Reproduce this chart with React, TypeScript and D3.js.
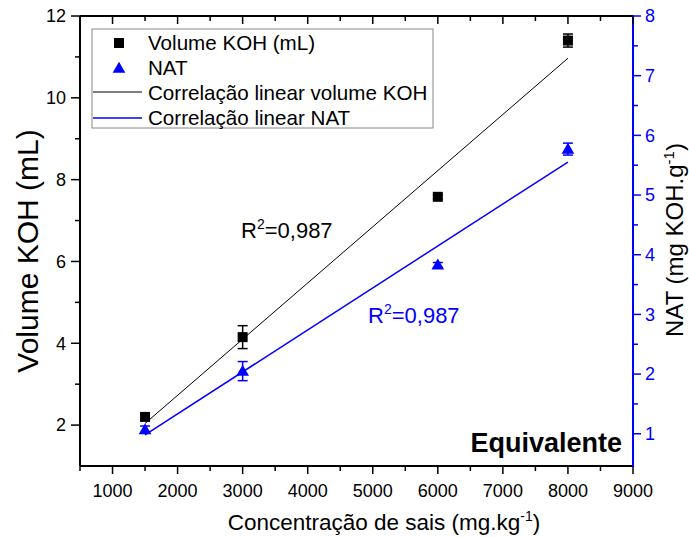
import React from "react";
import * as d3 from "d3";

const concentrations = [1500, 3000, 6000, 8000];
const volumeKOH = [2.2, 4.15, 7.58, 11.4];
const volumeKOHErr = [0.07, 0.28, 0.05, 0.16];
const nat = [1.07, 2.05, 3.83, 5.77];
const natErr = [0.06, 0.16, 0.04, 0.1];

const xMajorTicks = [1000, 2000, 3000, 4000, 5000, 6000, 7000, 8000, 9000];
const xMinorTicks = [500, 1500, 2500, 3500, 4500, 5500, 6500, 7500, 8500];
const yLeftMajor = [2, 4, 6, 8, 10, 12];
const yLeftMinor = [3, 5, 7, 9, 11];
const yRightMajor = [1, 2, 3, 4, 5, 6, 7, 8];
const yRightMinor = [1.5, 2.5, 3.5, 4.5, 5.5, 6.5, 7.5];

const legendLabels = [
  "Volume KOH (mL)",
  "NAT",
  "Correlação linear volume KOH",
  "Correlação linear NAT",
];
const r2Labels = ["0,987", "0,987"];

const W = 689;
const H = 537;
const L = 80, R = 633, T = 16, B = 466;
const FONT = "'Liberation Sans', Arial, sans-serif";
const BLUE = "#0000ff";

function fit(xs: number[], ys: number[]) {
  const mx = d3.mean(xs)!;
  const my = d3.mean(ys)!;
  let sxy = 0, sxx = 0;
  xs.forEach((x, i) => { sxy += (x - mx) * (ys[i] - my); sxx += (x - mx) ** 2; });
  const m = sxy / sxx;
  return (x: number) => my + m * (x - mx);
}

export default function App() {
  const x = d3.scaleLinear().domain([500, 9000]).range([L, R]);
  const yL = d3.scaleLinear().domain([1, 12]).range([B, T]);
  const yR = d3.scaleLinear().domain([0.46, 8]).range([B, T]);

  const fKOH = fit(concentrations, volumeKOH);
  const fNAT = fit(concentrations, nat);
  const x0 = d3.min(concentrations)!;
  const x1 = d3.max(concentrations)!;
  const lineKOH = d3.line<number>().x((d) => x(d)).y((d) => yL(fKOH(d)));
  const lineNAT = d3.line<number>().x((d) => x(d)).y((d) => yR(fNAT(d)));

  const tri = d3.symbol().type(d3.symbolTriangle).size(70)()!;

  return (
    <svg width={W} height={H} style={{ position: "absolute", left: 0, top: 0, background: "#fff" }} fontFamily={FONT}>
      {/* regression lines */}
      <path d={lineKOH([x0, x1])!} stroke="#000" strokeWidth={1} fill="none" />
      <path d={lineNAT([x0, x1])!} stroke={BLUE} strokeWidth={1.5} fill="none" />

      {/* KOH points */}
      {concentrations.map((c, i) => {
        const cx = x(c);
        const yt = yL(volumeKOH[i] + volumeKOHErr[i]);
        const yb = yL(volumeKOH[i] - volumeKOHErr[i]);
        return (
          <g key={"k" + i}>
            <line x1={cx} x2={cx} y1={yt} y2={yb} stroke="#000" strokeWidth={1.5} />
            <line x1={cx - 5} x2={cx + 5} y1={yt} y2={yt} stroke="#000" strokeWidth={1.5} />
            <line x1={cx - 5} x2={cx + 5} y1={yb} y2={yb} stroke="#000" strokeWidth={1.5} />
            <rect x={cx - 5} y={yL(volumeKOH[i]) - 5} width={10} height={10} fill="#000" />
          </g>
        );
      })}
      {/* NAT points */}
      {concentrations.map((c, i) => {
        const cx = x(c);
        const yt = yR(nat[i] + natErr[i]);
        const yb = yR(nat[i] - natErr[i]);
        return (
          <g key={"n" + i}>
            <line x1={cx} x2={cx} y1={yt} y2={yb} stroke={BLUE} strokeWidth={1.5} />
            <line x1={cx - 5} x2={cx + 5} y1={yt} y2={yt} stroke={BLUE} strokeWidth={1.5} />
            <line x1={cx - 5} x2={cx + 5} y1={yb} y2={yb} stroke={BLUE} strokeWidth={1.5} />
            <path d={tri} transform={`translate(${cx},${yR(nat[i]) + 1})`} fill={BLUE} />
          </g>
        );
      })}

      {/* frame */}
      <line x1={L} x2={R} y1={T} y2={T} stroke="#000" strokeWidth={2} />
      <line x1={L} x2={R} y1={B} y2={B} stroke="#000" strokeWidth={2} />
      <line x1={L} x2={L} y1={T} y2={B} stroke="#000" strokeWidth={2} />
      <line x1={R} x2={R} y1={T - 1} y2={B + 1} stroke={BLUE} strokeWidth={2} />

      {/* x ticks */}
      {xMajorTicks.map((t) => (
        <g key={"xm" + t}>
          <line x1={x(t)} x2={x(t)} y1={B} y2={B + 8} stroke="#000" strokeWidth={1.5} />
          <line x1={x(t)} x2={x(t)} y1={T} y2={T + 8} stroke="#000" strokeWidth={1.5} />
          <text x={x(t)} y={B + 31} textAnchor="middle" fontSize={18} fill="#000">{t}</text>
        </g>
      ))}
      {xMinorTicks.map((t) => (
        <g key={"xn" + t}>
          <line x1={x(t)} x2={x(t)} y1={B} y2={B + 5} stroke="#000" strokeWidth={1.5} />
          <line x1={x(t)} x2={x(t)} y1={T} y2={T + 5} stroke="#000" strokeWidth={1.5} />
        </g>
      ))}

      {/* left ticks */}
      {yLeftMajor.map((t) => (
        <g key={"ym" + t}>
          <line x1={L - 9} x2={L} y1={yL(t)} y2={yL(t)} stroke="#000" strokeWidth={1.5} />
          <text x={L - 14} y={yL(t)} dy="0.35em" textAnchor="end" fontSize={18} fill="#000">{t}</text>
        </g>
      ))}
      {yLeftMinor.map((t) => (
        <line key={"yn" + t} x1={L - 5} x2={L} y1={yL(t)} y2={yL(t)} stroke="#000" strokeWidth={1.5} />
      ))}

      {/* right ticks */}
      {yRightMajor.map((t) => (
        <g key={"rm" + t}>
          <line x1={R} x2={R + 8} y1={yR(t)} y2={yR(t)} stroke={BLUE} strokeWidth={1.5} />
          <text x={R + 12} y={yR(t)} dy="0.35em" textAnchor="start" fontSize={18} fill={BLUE}>{t}</text>
        </g>
      ))}
      {yRightMinor.map((t) => (
        <line key={"rn" + t} x1={R} x2={R + 5} y1={yR(t)} y2={yR(t)} stroke={BLUE} strokeWidth={1.5} />
      ))}

      {/* axis titles */}
      <text x={384} y={530} textAnchor="middle" fontSize={22.5} fill="#000">
        Concentração de sais (mg.kg<tspan dy={-9} fontSize={14}>-1</tspan><tspan dy={9}>)</tspan>
      </text>
      <text transform={`translate(38,251) rotate(-90)`} textAnchor="middle" fontSize={30} fill="#000">
        Volume KOH (mL)
      </text>
      <text transform={`translate(683,240) rotate(-90)`} textAnchor="middle" fontSize={24} fill="#000">
        NAT (mg KOH.g<tspan dy={-9} fontSize={15}>-1</tspan><tspan dy={9}>)</tspan>
      </text>

      {/* legend */}
      <rect x={92} y={29} width={341} height={99} fill="#fff" stroke="#888" strokeWidth={1} />
      <rect x={114} y={38} width={10} height={10} fill="#000" />
      <path d={tri} transform={`translate(119,69)`} fill={BLUE} />
      <line x1={93} x2={142} y1={92} y2={92} stroke="#000" strokeWidth={1} />
      <line x1={93} x2={142} y1={118} y2={118} stroke={BLUE} strokeWidth={1.5} />
      {legendLabels.map((lab, i) => (
        <text key={lab} x={148} y={43 + i * 25} dy="0.35em" fontSize={20.6} fill="#000">{lab}</text>
      ))}

      {/* R2 annotations */}
      <text x={241} y={238} fontSize={22} fill="#000">
        R<tspan dy={-9} fontSize={14}>2</tspan><tspan dy={9}>={r2Labels[0]}</tspan>
      </text>
      <text x={368} y={323} fontSize={22} fill={BLUE}>
        R<tspan dy={-9} fontSize={14}>2</tspan><tspan dy={9}>={r2Labels[1]}</tspan>
      </text>

      <text x={622} y={452} textAnchor="end" fontSize={27} fontWeight="bold" fill="#000">Equivalente</text>
    </svg>
  );
}
